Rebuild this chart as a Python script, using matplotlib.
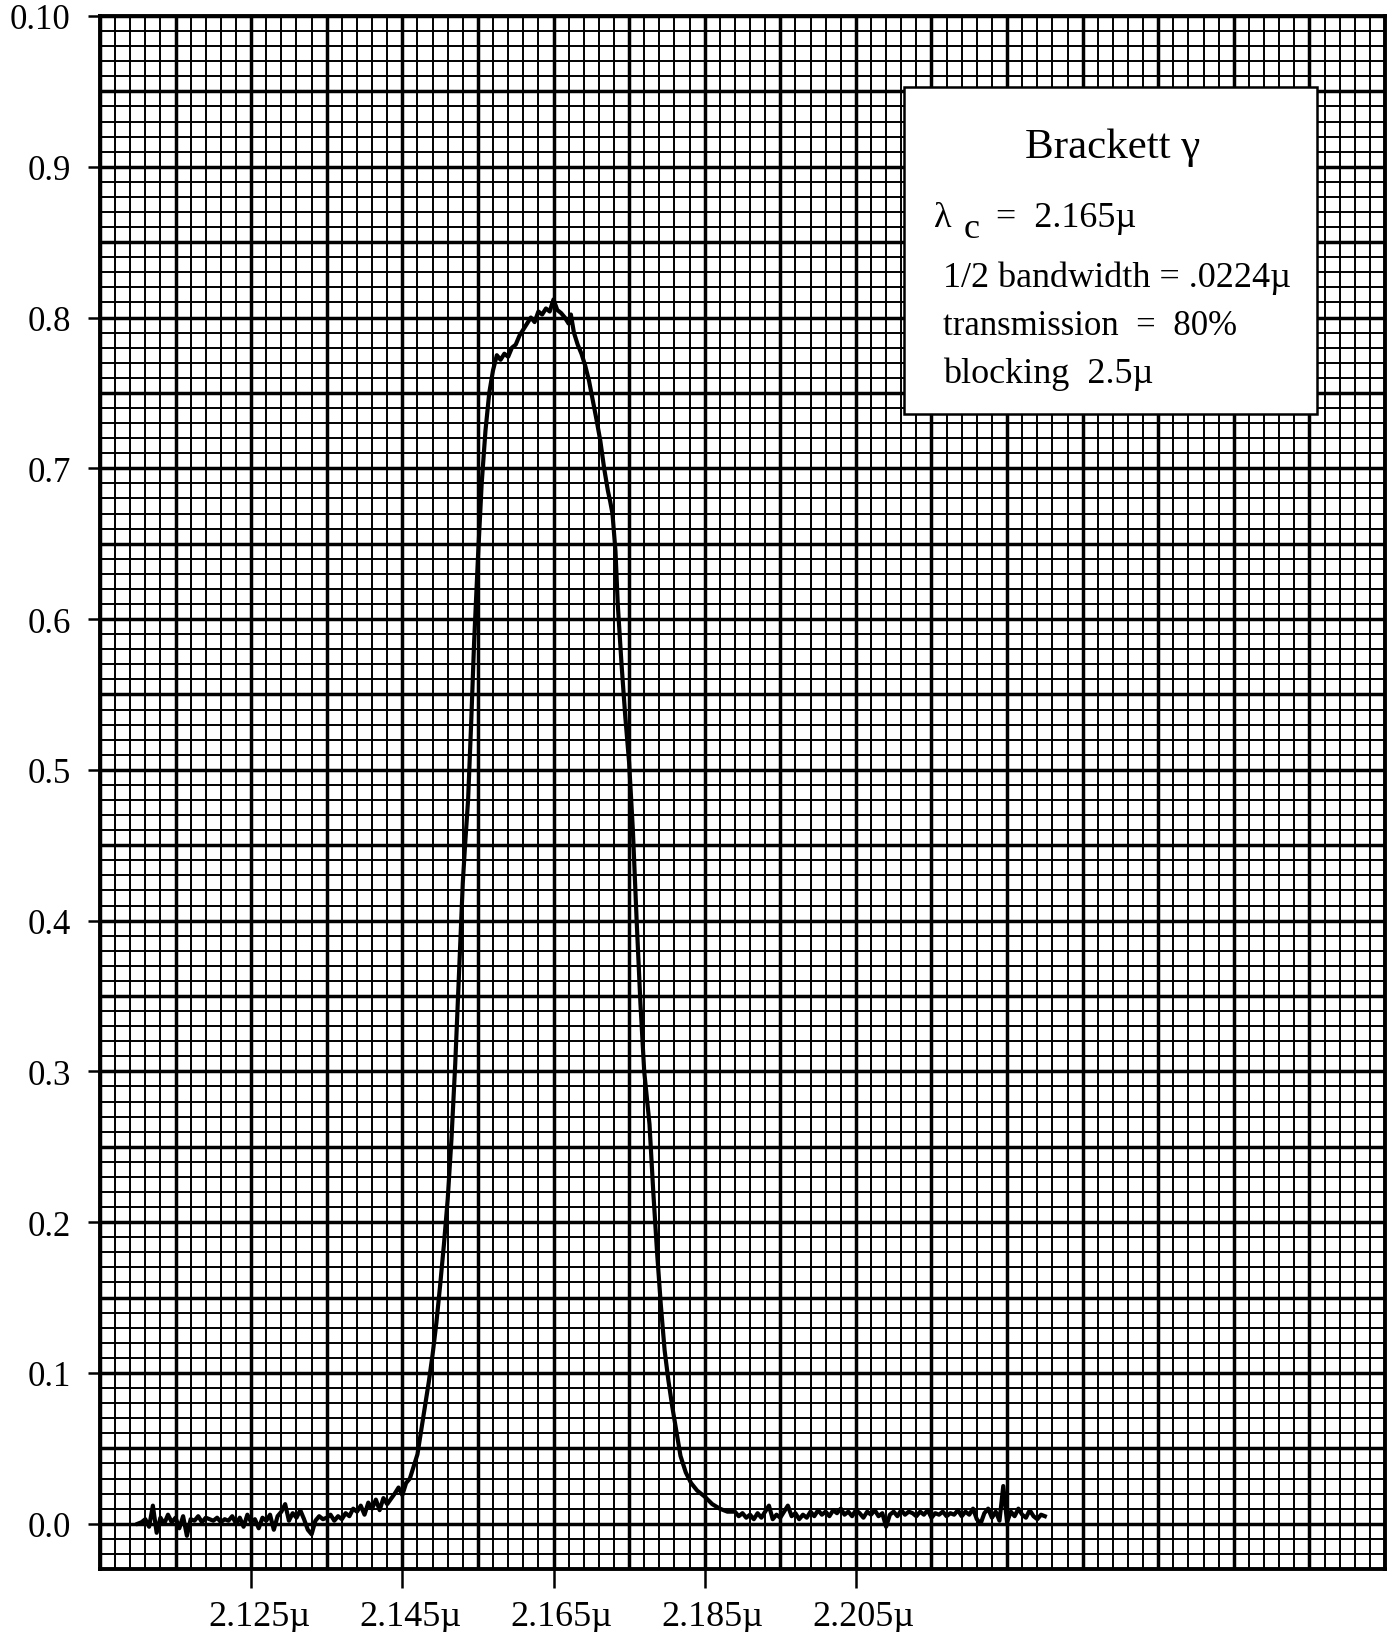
import matplotlib
matplotlib.use("Agg")
import matplotlib.pyplot as plt
import matplotlib.transforms as mtransforms
import numpy as np

# --- data ---
# baseline noise left of the band (x step 0.0005 from 2.1100)
left_noise_y = [0.000, 0.001, 0.003, -0.002, 0.012, -0.006, 0.004, 0.000, 0.006, 0.001,
                0.004, -0.003, 0.005, -0.008, 0.003, 0.002, 0.005, 0.001, 0.004, 0.003,
                0.002, 0.004, 0.001, 0.003, 0.002, 0.005, 0.000, 0.004, -0.002, 0.006,
                0.001, 0.003, -0.003, 0.004, 0.002, 0.006, -0.004, 0.005, 0.008, 0.013,
                0.002, 0.007, 0.004, 0.009, 0.003, -0.004, -0.007, 0.002, 0.005, 0.003,
                0.004, 0.006, 0.002, 0.005, 0.003, 0.007, 0.005, 0.010, 0.008, 0.012,
                0.006, 0.014, 0.010, 0.016, 0.009, 0.017, 0.013]

# filter profile
band_x = [2.1440, 2.1445, 2.1450, 2.1455, 2.1460, 2.1465, 2.1470, 2.1475, 2.1480, 2.1485,
          2.1490, 2.1495, 2.1500, 2.1505, 2.1510, 2.1515, 2.1520, 2.1525, 2.1530, 2.1533,
          2.1537, 2.1541, 2.1545, 2.1550, 2.1555, 2.1560, 2.1565, 2.1570, 2.1575, 2.1580,
          2.1585, 2.1590, 2.1595, 2.1600, 2.1605, 2.1610, 2.1615, 2.1620, 2.1625, 2.1630,
          2.1635, 2.1640, 2.1645, 2.1650, 2.1655, 2.1660, 2.1665, 2.1670, 2.1673, 2.1677,
          2.1682, 2.1687, 2.1692, 2.1697, 2.1702, 2.1707, 2.1712, 2.1717, 2.1722, 2.1725,
          2.1728, 2.1732, 2.1735, 2.1740, 2.1745, 2.1750, 2.1755, 2.1760, 2.1765, 2.1770,
          2.1773, 2.1777, 2.1782, 2.1787, 2.1792, 2.1797, 2.1802, 2.1807, 2.1813, 2.1818,
          2.1825, 2.1832, 2.1840, 2.1850, 2.1860, 2.1870, 2.1880]
band_y = [0.020, 0.024, 0.019, 0.027, 0.030, 0.038, 0.046, 0.062, 0.078, 0.094,
          0.112, 0.133, 0.158, 0.185, 0.215, 0.255, 0.305, 0.365, 0.425, 0.450,
          0.480, 0.530, 0.585, 0.640, 0.690, 0.725, 0.750, 0.765, 0.775, 0.772,
          0.776, 0.774, 0.780, 0.782, 0.788, 0.792, 0.796, 0.800, 0.797, 0.804,
          0.802, 0.806, 0.804, 0.812, 0.805, 0.803, 0.800, 0.796, 0.802, 0.790,
          0.782, 0.776, 0.768, 0.758, 0.745, 0.732, 0.718, 0.700, 0.685, 0.678,
          0.670, 0.645, 0.610, 0.570, 0.535, 0.505, 0.460, 0.400, 0.345, 0.300,
          0.285, 0.265, 0.220, 0.180, 0.145, 0.115, 0.095, 0.078, 0.060, 0.045,
          0.034, 0.027, 0.022, 0.018, 0.013, 0.010, 0.008]

# baseline noise right of the band (x step 0.0005 from 2.1890)
right_noise_y = [0.008, 0.005, 0.007, 0.004, 0.006, 0.003, 0.007, 0.004, 0.008, 0.012,
                 0.003, 0.006, 0.004, 0.008, 0.012, 0.005, 0.007, 0.003, 0.006, 0.004,
                 0.008, 0.005, 0.009, 0.006, 0.008, 0.005, 0.009, 0.007, 0.010, 0.006,
                 0.008, 0.005, 0.009, 0.007, 0.004, 0.008, 0.006, 0.009, 0.005, 0.007,
                 -0.002, 0.006, 0.008, 0.005, 0.009, 0.006, 0.008, 0.007, 0.005, 0.008,
                 0.006, 0.009, 0.004, 0.007, 0.006, 0.008, 0.005, 0.007, 0.006, 0.009,
                 0.005, 0.008, 0.006, 0.010, 0.003, 0.000, 0.007, 0.010, 0.004, 0.008,
                 0.002, 0.025, 0.001, 0.008, 0.005, 0.010, 0.006, 0.004, 0.009, 0.005,
                 0.003, 0.006, 0.005]

xtick_vals = [2.125, 2.145, 2.165, 2.185, 2.205]
xtick_labels = ["2.125µ", "2.145µ", "2.165µ", "2.185µ", "2.205µ"]
ytick_vals = [0.0, 0.1, 0.2, 0.3, 0.4, 0.5, 0.6, 0.7, 0.8, 0.9, 1.0]
ytick_labels = ["0.0", "0.1", "0.2", "0.3", "0.4", "0.5", "0.6", "0.7", "0.8", "0.9", "0.10"]

left_x = np.round(2.1100 + 0.0005 * np.arange(len(left_noise_y)), 4)
right_x = np.round(2.1890 + 0.0005 * np.arange(len(right_noise_y)), 4)
x = np.concatenate([left_x, band_x, right_x])
y = np.concatenate([left_noise_y, band_y, right_noise_y])

plt.rcParams["font.family"] = ["Liberation Serif", "DejaVu Serif"]

fig = plt.figure(figsize=(13.98, 16.33), dpi=100)
ax = fig.add_axes([0.0715, 0.0386, 0.9192, 0.951])

x0, x1 = 2.105, 2.275
y0, y1 = -0.03, 1.0
ax.set_xlim(x0, x1)
ax.set_ylim(y0, y1)

# graph paper
minor_v = np.arange(x0, x1 + 1e-9, 0.002)
minor_h = np.arange(y0, y1 + 1e-9, 0.01)
major_v = np.arange(x0, x1 + 1e-9, 0.01)
major_h = np.arange(0.0, y1 + 1e-9, 0.05)
ax.vlines(minor_v, y0, y1, colors="black", linewidth=1.4, zorder=1)
ax.hlines(minor_h, x0, x1, colors="black", linewidth=1.4, zorder=1)
ax.vlines(major_v, y0, y1, colors="black", linewidth=2.5, zorder=1)
ax.hlines(major_h, x0, x1, colors="black", linewidth=2.5, zorder=1)

ax.plot(x, y, color="black", linewidth=3.0, zorder=3)

for s in ax.spines.values():
    s.set_linewidth(2.8)

ax.set_xticks(xtick_vals)
ax.set_xticklabels(xtick_labels, fontsize=26)
ax.set_yticks(ytick_vals)
ax.set_yticklabels(ytick_labels, fontsize=25)
ax.tick_params(axis="x", direction="out", length=14, width=1.8, pad=8)
ax.tick_params(axis="y", direction="out", length=9, width=1.8, pad=12)

# x labels sit slightly right of their ticks
shift = mtransforms.ScaledTranslation(8 / 100, 0, fig.dpi_scale_trans)
for lab in ax.get_xticklabels():
    lab.set_transform(lab.get_transform() + shift)

# info box
box = plt.Rectangle((0.626, 0.744), 0.321, 0.210, transform=ax.transAxes,
                    facecolor="white", edgecolor="black", linewidth=1.8, zorder=4)
ax.add_patch(box)
ax.text(0.788, 0.909, "Brackett γ", transform=ax.transAxes, fontsize=31,
        ha="center", va="baseline", zorder=5)
ax.text(0.649, 0.865, "λ", transform=ax.transAxes, fontsize=26,
        ha="left", va="baseline", zorder=5)
ax.text(0.672, 0.858, "c", transform=ax.transAxes, fontsize=26,
        ha="left", va="baseline", zorder=5)
ax.text(0.697, 0.865, "=  2.165µ", transform=ax.transAxes, fontsize=26,
        ha="left", va="baseline", zorder=5)
ax.text(0.656, 0.826, "1/2 bandwidth = .0224µ", transform=ax.transAxes, fontsize=26,
        ha="left", va="baseline", zorder=5)
ax.text(0.656, 0.795, "transmission  =  80%", transform=ax.transAxes, fontsize=25,
        ha="left", va="baseline", zorder=5)
ax.text(0.656, 0.764, "blocking  2.5µ", transform=ax.transAxes, fontsize=26,
        ha="left", va="baseline", zorder=5)

fig.savefig("out.png", dpi=100, facecolor="white")
